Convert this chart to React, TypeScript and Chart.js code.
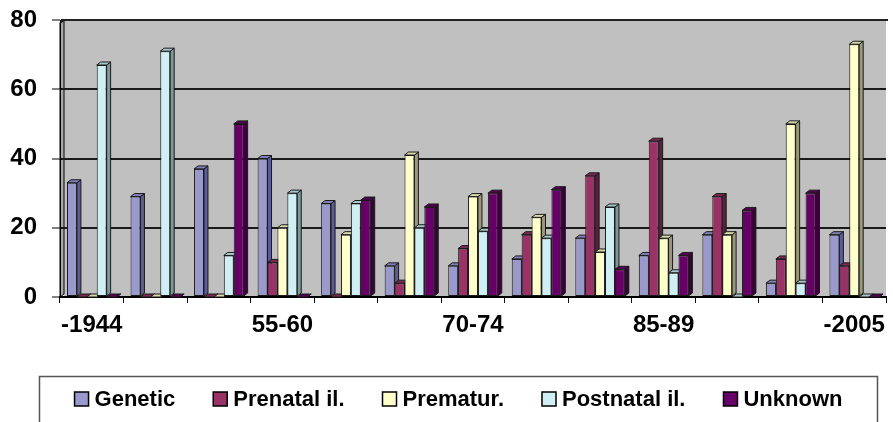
import React, { useEffect, useRef } from 'react';
import { Chart, registerables } from 'chart.js';

Chart.register(...registerables);

// Five-year birth periods on the category axis
const periods = ['-1944', '45-49', '50-54', '55-60', '60-64', '65-69', '70-74', '75-79', '80-84', '85-89', '90-94', '95-99', '-2005'];
// Only every third period is labelled on the axis
const labelledPeriods = ['-1944', '55-60', '70-74', '85-89', '-2005'];

const genetic = [33, 29, 37, 40, 27, 9, 9, 11, 17, 12, 18, 4, 18];
const prenatal = [0, 0, 0, 10, 0, 4, 14, 18, 35, 45, 29, 11, 9];
const prematur = [0, 0, 0, 20, 18, 41, 29, 23, 13, 17, 18, 50, 73];
const postnatal = [67, 71, 12, 30, 27, 20, 19, 17, 26, 7, 0, 4, 0];
const unknown = [0, 0, 50, 0, 28, 26, 30, 31, 8, 12, 25, 30, 0];

const seriesNames = ['Genetic', 'Prenatal il.', 'Prematur.', 'Postnatal il.', 'Unknown'];
const seriesValues = [genetic, prenatal, prematur, postnatal, unknown];

const yMin = 0;
const yMax = 80;
const yStep = 20;

const FONT = '"Liberation Sans", Arial, Helvetica, sans-serif';
const faceColors = ['#9999CC', '#993366', '#FFFFCC', '#CFEFF5', '#660066'];
const sideColors = ['#5C5C99', '#5C1F3D', '#99997A', '#7A9999', '#3D003D'];
const capColors = ['#8080B8', '#7A2952', '#DADAAE', '#A8C8CC', '#520052'];

// depth of the pseudo-3D extrusion
const DX = 4;
const DY = 3;

const wallPlugin = {
  id: 'wall',
  beforeDraw(chart: any) {
    const { ctx, chartArea: a, width, height } = chart;
    ctx.save();
    ctx.fillStyle = '#FFFFFF';
    ctx.fillRect(0, 0, width, height);
    // back wall
    ctx.fillStyle = '#C0C0C0';
    ctx.fillRect(a.left + DX, a.top, a.right - a.left - DX, a.bottom - a.top);
    // side wall
    ctx.fillStyle = '#A9A9A9';
    ctx.beginPath();
    ctx.moveTo(a.left, a.top + DY);
    ctx.lineTo(a.left + DX, a.top);
    ctx.lineTo(a.left + DX, a.bottom - DY);
    ctx.lineTo(a.left, a.bottom);
    ctx.closePath();
    ctx.fill();
    ctx.strokeStyle = '#000';
    ctx.lineWidth = 1;
    ctx.stroke();
    ctx.restore();
  },
  afterDraw(chart: any) {
    const { ctx, chartArea: a } = chart;
    ctx.save();
    ctx.strokeStyle = '#222';
    ctx.lineWidth = 2;
    ctx.beginPath();
    ctx.moveTo(a.left, a.top + DY);
    ctx.lineTo(a.left + DX, a.top);
    ctx.lineTo(a.right + 2, a.top);
    ctx.stroke();
    ctx.restore();
  },
};

const bars3dPlugin = {
  id: 'bars3d',
  beforeDatasetsDraw(chart: any) {
    const { ctx } = chart;
    const n = chart.data.labels.length;
    ctx.save();
    ctx.lineWidth = 1;
    ctx.strokeStyle = '#1A1A1A';
    ctx.lineJoin = 'round';
    for (let i = 0; i < n; i++) {
      for (let d = 0; d < chart.data.datasets.length; d++) {
        const el = chart.getDatasetMeta(d).data[i];
        if (!el) continue;
        const { x, y, base, width } = el.getProps(['x', 'y', 'base', 'width'], true);
        const l = x - width / 2;
        const r = x + width / 2;
        // right side face
        ctx.beginPath();
        ctx.moveTo(r, y);
        ctx.lineTo(r + DX, y - DY);
        ctx.lineTo(r + DX, base - DY);
        ctx.lineTo(r, base);
        ctx.closePath();
        ctx.fillStyle = sideColors[d];
        ctx.fill();
        ctx.stroke();
        // top face
        ctx.beginPath();
        ctx.moveTo(l, y);
        ctx.lineTo(l + DX, y - DY);
        ctx.lineTo(r + DX, y - DY);
        ctx.lineTo(r, y);
        ctx.closePath();
        ctx.fillStyle = capColors[d];
        ctx.fill();
        ctx.stroke();
      }
    }
    ctx.restore();
  },
};

const boxedLegendPlugin = {
  id: 'boxedLegend',
  afterDraw(chart: any) {
    const { ctx, width } = chart;
    const boxLeft = 39.5;
    const boxRight = width - 15.5;
    const boxTop = 376.5;
    const rowY = 399;
    const sq = 14;
    const textGap = 6;
    const itemGap = 38;
    ctx.save();
    ctx.strokeStyle = '#555';
    ctx.lineWidth = 1.5;
    ctx.beginPath();
    ctx.moveTo(boxLeft, chart.height + 5);
    ctx.lineTo(boxLeft, boxTop);
    ctx.lineTo(boxRight, boxTop);
    ctx.lineTo(boxRight, chart.height + 5);
    ctx.stroke();

    ctx.font = `bold 22px ${FONT}`;
    ctx.textBaseline = 'middle';
    ctx.textAlign = 'left';
    const names: string[] = chart.data.datasets.map((ds: any) => ds.label);
    const widths = names.map((t) => ctx.measureText(t).width);
    const total = widths.reduce((s, w) => s + sq + textGap + w, 0) + itemGap * (names.length - 1);
    let x = (boxLeft + boxRight) / 2 - total / 2;
    names.forEach((t, d) => {
      ctx.fillStyle = faceColors[d];
      ctx.fillRect(x, rowY - sq / 2, sq, sq);
      ctx.strokeStyle = '#000';
      ctx.lineWidth = 1.5;
      ctx.strokeRect(x, rowY - sq / 2, sq, sq);
      ctx.fillStyle = '#000';
      ctx.fillText(t, x + sq + textGap, rowY + 1);
      x += sq + textGap + widths[d] + itemGap;
    });
    ctx.restore();
  },
};

export default function App() {
  const canvasRef = useRef<HTMLCanvasElement | null>(null);

  useEffect(() => {
    document.body.style.margin = '0';
    const canvas = canvasRef.current;
    if (!canvas) return;
    const chart = new Chart(canvas, {
      type: 'bar',
      data: {
        labels: periods,
        datasets: seriesNames.map((name, d) => ({
          label: name,
          data: seriesValues[d],
          backgroundColor: faceColors[d],
          borderColor: '#1A1A1A',
          borderWidth: 1,
          borderSkipped: false,
          categoryPercentage: 0.78,
          barPercentage: 1,
        })),
      },
      options: {
        animation: false,
        responsive: false,
        devicePixelRatio: 1,
        layout: { padding: { left: 0, right: 2, top: 20, bottom: 0 } },
        plugins: {
          legend: { display: false },
          tooltip: { enabled: false },
        },
        scales: {
          x: {
            grid: {
              offset: true,
              drawOnChartArea: false,
              drawTicks: true,
              tickLength: 6,
              color: '#000',
              lineWidth: 1,
            },
            border: { color: '#000', width: 2 },
            ticks: {
              autoSkip: false,
              maxRotation: 0,
              padding: 8,
              color: '#000',
              font: { family: FONT, size: 24, weight: 'bold' },
              callback: (_v: any, i: number) => (labelledPeriods.includes(periods[i]) ? periods[i] : ''),
            },
            afterFit: (s: any) => {
              s.height = 125;
            },
          },
          y: {
            min: yMin,
            max: yMax,
            ticks: {
              stepSize: yStep,
              padding: 15,
              color: '#000',
              font: { family: FONT, size: 24, weight: 'bold' },
            },
            grid: {
              color: '#1A1A1A',
              lineWidth: 2,
              tickLength: 8,
              tickColor: '#000',
              tickWidth: 1,
            },
            border: { color: '#000', width: 1 },
            afterFit: (s: any) => {
              s.width = 60;
              // the top label may sit half out of the plot; the layout padding already leaves room
              s.paddingTop = 0;
              s.paddingBottom = 0;
            },
          },
        },
      },
      plugins: [wallPlugin, bars3dPlugin, boxedLegendPlugin],
    });
    return () => chart.destroy();
  }, []);

  return (
    <div style={{ width: 893, height: 422, position: 'relative' }}>
      <canvas ref={canvasRef} width={893} height={422} style={{ width: 893, height: 422, display: 'block' }} />
    </div>
  );
}
